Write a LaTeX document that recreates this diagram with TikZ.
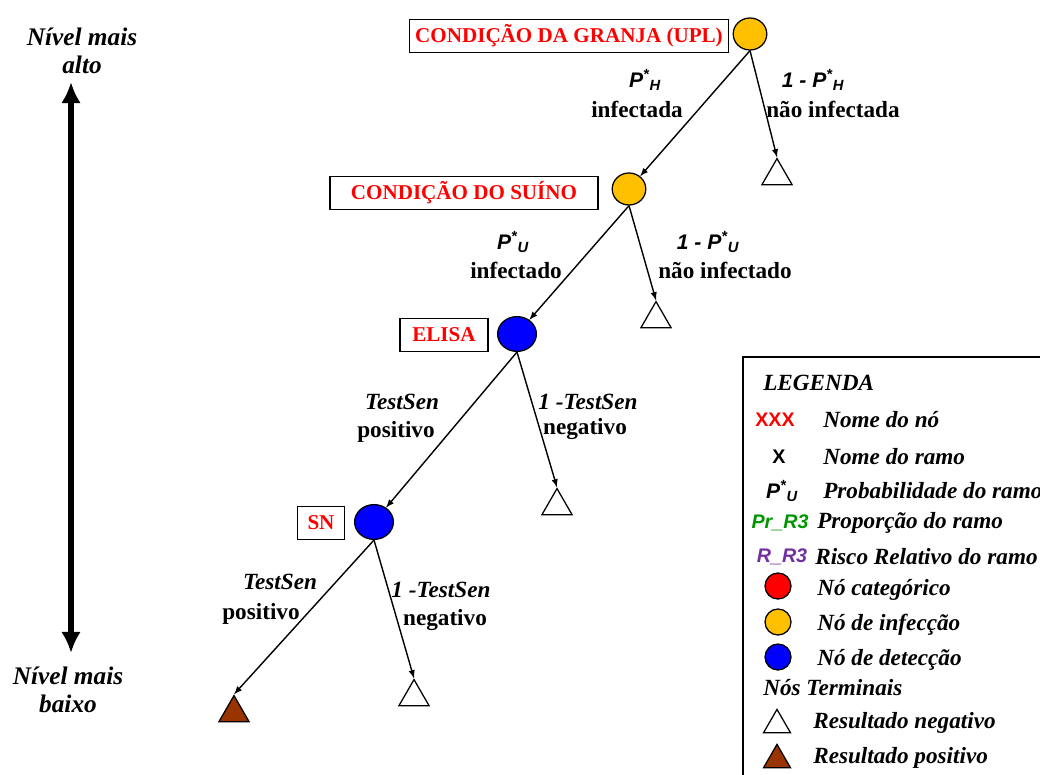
\documentclass[tikz,border=0pt]{standalone}
\usepackage{fontspec}
\setmainfont{Liberation Serif}
\newfontfamily\sansfont{Liberation Sans}
\usetikzlibrary{shapes.geometric,arrows.meta}
\definecolor{infyellow}{RGB}{255,192,0}
\definecolor{detblue}{RGB}{0,0,255}
\definecolor{posbrown}{RGB}{153,51,0}
\definecolor{propgreen}{RGB}{0,150,0}
\definecolor{riskpurple}{RGB}{112,48,160}
\newcommand\pstar[1]{P\textsuperscript{*}\textsubscript{#1}}

\begin{document}
\begin{tikzpicture}[
    x=0.025cm, y=-0.025cm,
    namebox/.style={draw,line width=1.1pt,text=red,inner xsep=0pt,minimum height=0.83cm,font=\fontsize{15}{18}\selectfont\bfseries},
    chance/.style={ellipse,draw=black,line width=0.9pt,inner sep=0pt},
    infnode/.style={chance,fill=infyellow,minimum width=0.84cm,minimum height=0.8cm},
    detnode/.style={chance,fill=detblue,minimum width=0.97cm,minimum height=0.87cm},
    leaf/.style={regular polygon,regular polygon sides=3,draw,line width=0.9pt,inner sep=0pt,minimum size=0.87cm},
    branch/.style={->,>=latex,line width=1pt},
    brtext/.style={font=\fontsize{16.5}{19}\selectfont\bfseries,inner sep=0pt},
    probtext/.style={font=\fontsize{15}{17}\selectfont\sansfont\bfseries\itshape,inner sep=0pt},
    legtext/.style={anchor=west,font=\fontsize{16.5}{19}\selectfont\bfseries\itshape,inner sep=0pt},
    lvtext/.style={font=\fontsize{18}{19.5}\selectfont\bfseries\itshape,align=center}
  ]
    \useasboundingbox (0,0) rectangle (1040,775);
    \clip (0,0) rectangle (1040,775);

    % level arrow
    \node[lvtext] (alto) at (82,51) {Nível mais\\alto};
    \node[lvtext] (baixo) at (68,690) {Nível mais\\baixo};
    \coordinate (lvtop) at (71,82);
    \coordinate (lvbot) at (71,653);
    \draw[{Latex[length=15pt,width=14pt]}-{Latex[length=15pt,width=14pt]},line width=4.5pt] (lvtop) -- (lvbot);

    % tree
    \node[infnode] (granja) at (750,34) {};
    \node[namebox,minimum width=7.98cm] (granjalbl) at (569,36) {CONDIÇÃO DA GRANJA (UPL)};
    \node[infnode] (suino) at (629,189) {};
    \node[namebox,minimum width=6.7cm] (suinolbl) at (464,193) {CONDIÇÃO DO SUÍNO};
    \node[detnode] (elisa) at (517,334) {};
    \node[namebox,minimum width=2.2cm] (elisalbl) at (444,335) {ELISA};
    \node[detnode] (sn) at (374,522) {};
    \node[namebox,minimum width=1.18cm] (snlbl) at (321,523) {SN};

    \node[leaf] (granjaneg) at (777,176) {};
    \node[leaf] (suinoneg) at (656,319) {};
    \node[leaf] (elisaneg) at (557,506) {};
    \node[leaf] (snneg) at (414,697) {};
    \node[leaf,fill=posbrown] (snpos) at (234,713) {};

    \draw[branch] (granja.south) -- (suino);
    \draw[branch] (granja.south) -- (granjaneg.corner 1);
    \draw[branch] (suino.south) -- (elisa);
    \draw[branch] (suino.south) -- (suinoneg.corner 1);
    \draw[branch] (elisa.south) -- (sn);
    \draw[branch] (elisa.south) -- (elisaneg.corner 1);
    \draw[branch] (sn.south) -- (snpos.corner 1);
    \draw[branch] (sn.south) -- (snneg.corner 1);

    \node[probtext] (phinf) at (645,80) {\pstar{H}};
    \node[brtext] (infa) at (637,109) {infectada};
    \node[probtext] (phnao) at (813,80) {1 - \pstar{H}};
    \node[brtext] (naoinfa) at (833,109) {não infectada};

    \node[probtext] (puinf) at (513,242) {\pstar{U}};
    \node[brtext] (info) at (516,270) {infectado};
    \node[probtext] (punao) at (708,242) {1 - \pstar{U}};
    \node[brtext] (naoinfo) at (725,270) {não infectado};

    \node[brtext] (elisasen) at (402,402) {\itshape TestSen};
    \node[brtext] (elisapos) at (396,432) {positivo};
    \node[brtext] (elisansen) at (588,402) {\itshape 1 -TestSen};
    \node[brtext] (elisaneglbl) at (585,429) {negativo};

    \node[brtext] (snsen) at (280,582) {\itshape TestSen};
    \node[brtext] (snposlbl) at (261,614) {positivo};
    \node[brtext] (snnsen) at (441,590) {\itshape 1 -TestSen};
    \node[brtext] (snneglbl) at (445,620) {negativo};

    % legend
    \draw[line width=1.2pt] (743,357) rectangle (1080,800);
    \node[legtext] (legtitle) at (763,383) {LEGENDA};
    \node[probtext,text=red,font=\fontsize{14}{17}\selectfont\sansfont\bfseries] (lgxxx) at (775,420) {XXX};
    \node[legtext] (lgxxxt) at (823,420) {Nome do nó};
    \node[probtext,font=\fontsize{14}{17}\selectfont\sansfont\bfseries] (lgx) at (779,457) {X};
    \node[legtext] (lgxt) at (823,457) {Nome do ramo};
    \node[probtext] (lgp) at (782,491) {\pstar{U}};
    \node[legtext] (lgpt) at (823,491) {Probabilidade do ramo};
    \node[probtext,text=propgreen,font=\fontsize{14}{17}\selectfont\sansfont\bfseries\itshape] (lgpr) at (780,523) {Pr\_R3};
    \node[legtext] (lgprt) at (817,523) {Proporção do ramo};
    \node[probtext,text=riskpurple,font=\fontsize{14}{17}\selectfont\sansfont\bfseries\itshape] (lgr) at (782,557) {R\_R3};
    \node[legtext] (lgrt) at (815,557) {Risco Relativo do ramo};
    \node[chance,fill=red,minimum size=0.65cm] (lgcat) at (778,586) {};
    \node[legtext] (lgcatt) at (817,590) {Nó categórico};
    \node[chance,fill=infyellow,minimum size=0.65cm] (lginf) at (778,622) {};
    \node[legtext] (lginft) at (817,625) {Nó de infecção};
    \node[chance,fill=detblue,minimum size=0.65cm] (lgdet) at (778,657) {};
    \node[legtext] (lgdett) at (817,660) {Nó de detecção};
    \node[legtext] (lgterm) at (763,688) {Nós Terminais};
    \node[leaf,minimum size=0.78cm] (lgneg) at (777,725) {};
    \node[legtext] (lgnegt) at (813,723) {Resultado negativo};
    \node[leaf,fill=posbrown,minimum size=0.78cm] (lgpos) at (777,760) {};
    \node[legtext] (lgpost) at (813,758) {Resultado positivo};
  \end{tikzpicture}
\end{document}
